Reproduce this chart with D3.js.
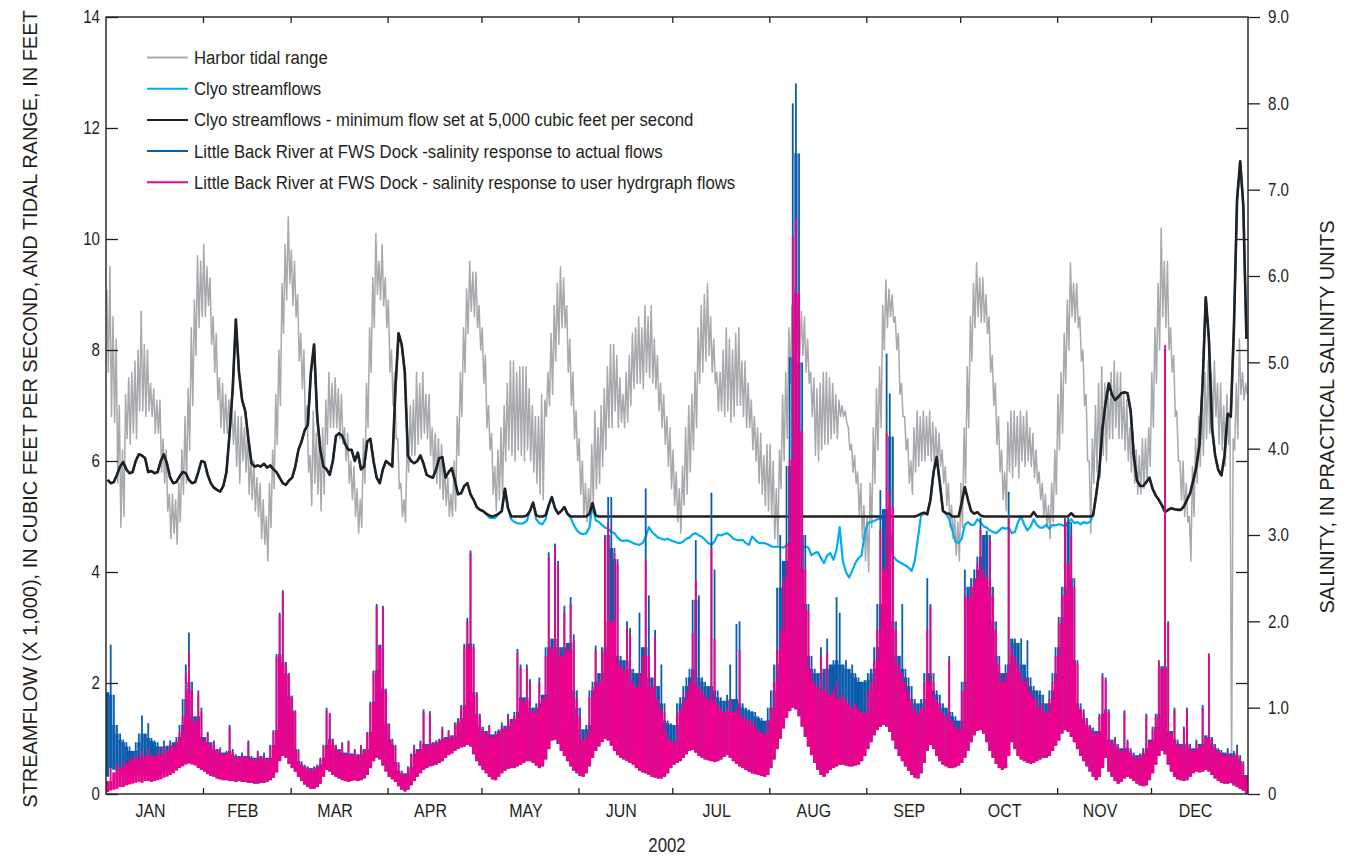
<!DOCTYPE html>
<html>
<head>
<meta charset="utf-8">
<title>Streamflow, tidal range and salinity, 2002</title>
<script src="https://cdn.jsdelivr.net/npm/d3@7"></script>
<style>
  html, body { margin: 0; padding: 0; background: #ffffff; }
  svg { display: block; }
  text { font-family: "Liberation Sans", Arial, sans-serif; fill: #231f20; }
</style>
</head>
<body>
<svg id="chart" width="1348" height="856"></svg>
<script>
// ---- Series for 2002; daily values start on 1 January ----

// Harbor tidal range, feet: two readings per day (larger, then smaller tide)
const tidalRange = [
  9.1, 7.6, 9.5, 6.8, 8.6, 6.7, 8.2, 5.6, 7.0, 4.8,
  6.2, 5.0, 7.2, 6.4, 7.5, 6.3, 7.6, 6.5, 7.8, 6.4,
  8.0, 6.9, 8.7, 6.9, 8.1, 6.8, 8.0, 6.9, 7.4, 6.8,
  7.3, 6.5, 7.1, 6.5, 7.1, 5.8, 6.4, 5.6, 6.2, 5.1,
  5.4, 4.6, 5.4, 4.7, 5.3, 4.5, 5.6, 4.9, 6.2, 5.4,
  6.8, 5.6, 7.3, 6.2, 8.4, 7.0, 8.9, 7.9, 9.7, 8.4,
  9.6, 8.6, 9.9, 8.6, 9.5, 8.8, 9.3, 8.1, 8.6, 7.6,
  8.3, 7.1, 7.5, 6.6, 7.4, 6.5, 7.2, 6.5, 7.1, 6.6,
  7.0, 6.3, 6.9, 5.9, 6.8, 5.6, 6.8, 6.0, 6.6, 5.8,
  6.5, 5.4, 6.1, 5.3, 6.0, 5.1, 5.7, 5.0, 5.6, 4.6,
  5.3, 4.5, 5.0, 4.2, 5.6, 4.8, 6.2, 5.5, 7.2, 6.3,
  8.0, 7.0, 9.2, 8.3, 9.9, 8.9, 10.4, 9.2, 9.8, 8.8,
  9.6, 8.6, 9.0, 7.8, 8.3, 7.3, 8.0, 6.6, 7.0, 5.8,
  6.1, 5.2, 6.9, 5.6, 6.5, 5.4, 6.4, 5.1, 6.6, 5.4,
  7.1, 6.3, 7.6, 6.6, 7.4, 6.6, 7.5, 6.6, 7.3, 6.4,
  7.2, 6.3, 6.6, 6.0, 6.5, 5.6, 6.0, 5.3, 5.9, 5.0,
  5.5, 4.7, 5.3, 4.8, 6.4, 5.6, 7.4, 6.6, 8.4, 7.6,
  9.3, 8.4, 10.1, 9.0, 9.6, 8.9, 9.9, 8.8, 9.3, 8.4,
  8.9, 7.6, 8.0, 7.0, 7.6, 6.4, 6.4, 5.5, 5.6, 5.0,
  5.3, 4.9, 6.4, 5.8, 7.0, 6.1, 7.1, 6.1, 7.6, 6.3,
  7.4, 6.4, 7.6, 6.5, 7.2, 6.4, 7.2, 6.1, 6.6, 5.8,
  6.5, 5.6, 6.4, 5.5, 6.3, 5.3, 5.9, 5.2, 5.7, 5.0,
  5.4, 5.0, 6.0, 5.1, 6.8, 6.1, 7.6, 6.8, 8.4, 7.6,
  9.1, 8.3, 9.6, 8.7, 9.4, 8.6, 9.4, 8.4, 8.8, 8.0,
  8.4, 7.4, 7.9, 6.6, 7.0, 6.2, 6.5, 5.4, 5.9, 5.1,
  6.2, 5.3, 6.6, 5.4, 7.0, 6.0, 7.4, 6.2, 7.8, 6.1,
  7.8, 6.0, 7.6, 6.2, 7.7, 6.1, 7.7, 6.0, 7.7, 6.2,
  7.3, 6.0, 7.0, 5.8, 6.8, 5.6, 6.8, 5.4, 7.2, 5.3,
  7.1, 6.8, 7.6, 7.0, 8.3, 7.2, 8.8, 7.8, 9.2, 8.1,
  9.5, 8.4, 9.3, 8.4, 8.8, 7.6, 8.2, 7.0, 7.6, 6.4,
  6.9, 6.0, 6.4, 5.4, 6.0, 5.0, 5.6, 4.9, 5.5, 4.9,
  6.3, 5.2, 6.9, 5.5, 6.6, 5.6, 7.0, 5.9, 7.3, 6.2,
  7.7, 6.6, 8.1, 6.6, 8.1, 6.9, 7.9, 6.6, 7.5, 6.7,
  7.2, 6.6, 7.6, 6.7, 7.9, 7.0, 8.3, 7.3, 8.4, 7.4,
  8.6, 7.4, 8.4, 7.3, 8.8, 7.6, 8.6, 7.5, 8.8, 7.4,
  8.2, 7.3, 7.9, 6.9, 7.4, 6.6, 7.2, 6.3, 6.8, 5.9,
  6.6, 5.5, 6.2, 5.2, 5.8, 4.9, 5.5, 4.7, 5.9, 5.2,
  6.6, 5.4, 7.0, 5.8, 7.2, 6.2, 7.6, 6.6, 8.4, 7.4,
  8.8, 7.6, 9.0, 7.8, 9.2, 7.9, 8.6, 7.6, 8.2, 7.4,
  7.6, 6.9, 7.6, 6.9, 8.0, 6.8, 8.4, 6.9, 8.2, 6.7,
  8.0, 6.8, 8.3, 7.0, 8.4, 7.0, 7.8, 6.8, 7.8, 6.6,
  7.4, 6.6, 7.1, 6.2, 6.8, 6.0, 6.6, 5.6, 6.5, 5.4,
  6.1, 5.2, 6.3, 5.1, 6.3, 5.0, 6.0, 4.6, 5.5, 4.5,
  6.2, 5.5, 7.2, 6.0, 7.6, 6.4, 8.4, 7.4, 8.8, 7.6,
  9.1, 8.0, 8.9, 7.9, 8.7, 7.9, 8.6, 7.6, 8.2, 7.4,
  7.6, 6.8, 7.5, 6.1, 7.3, 6.0, 7.4, 6.2, 7.6, 6.3,
  7.6, 6.3, 7.5, 6.4, 7.4, 6.5, 7.2, 6.4, 7.1, 6.8,
  7.0, 6.8, 6.9, 6.7, 6.6, 6.2, 6.3, 5.8, 6.1, 5.6,
  5.8, 5.0, 5.6, 4.6, 5.2, 4.2, 5.0, 4.0, 5.6, 4.8,
  6.6, 5.6, 7.3, 6.2, 7.7, 6.6, 8.8, 8.0, 9.26, 8.4,
  9.1, 8.6, 9.0, 8.5, 8.6, 8.0, 8.3, 7.2, 7.4, 6.8,
  6.8, 6.2, 6.4, 5.6, 6.0, 5.4, 6.6, 5.8, 6.9, 5.9,
  6.8, 6.0, 6.9, 6.0, 6.8, 6.1, 6.9, 6.0, 6.7, 5.9,
  6.6, 5.9, 6.5, 5.9, 6.2, 5.6, 5.9, 5.2, 5.6, 4.8,
  5.2, 4.6, 5.0, 4.3, 4.9, 4.2, 5.6, 4.8, 6.6, 5.6,
  7.7, 6.6, 8.6, 7.8, 9.2, 8.4, 9.57, 8.6, 9.3, 8.5,
  9.3, 8.5, 9.0, 8.3, 8.6, 7.6, 7.9, 7.0, 7.4, 6.3,
  6.8, 5.8, 6.2, 5.3, 5.8, 5.1, 6.7, 5.8, 6.9, 5.7,
  6.9, 5.9, 6.8, 5.7, 6.9, 6.0, 6.8, 5.9, 6.9, 6.0,
  6.6, 5.9, 6.5, 5.7, 6.2, 5.6, 5.8, 5.3, 5.6, 5.0,
  5.4, 4.8, 5.2, 4.6, 5.6, 4.9, 6.2, 5.4, 7.2, 6.2,
  7.6, 6.5, 8.3, 7.4, 8.9, 8.0, 9.57, 8.6, 9.2, 8.5,
  9.2, 8.4, 8.6, 7.8, 8.0, 7.0, 7.2, 6.0, 6.0, 4.7,
  6.4, 5.6, 7.0, 5.8, 7.4, 5.7, 7.7, 6.1, 7.4, 6.0,
  7.3, 6.4, 7.6, 6.4, 7.8, 6.6, 7.6, 6.4, 7.6, 6.4,
  7.2, 6.2, 7.1, 6.0, 6.6, 5.8, 6.5, 5.6, 6.2, 5.4,
  6.1, 5.4, 6.4, 5.5, 6.4, 5.6, 6.6, 5.9, 7.6, 6.6,
  8.4, 7.4, 9.2, 8.0, 10.2, 8.6, 9.6, 8.4, 9.6, 8.0,
  8.4, 7.6, 7.9, 6.8, 6.9, 6.0, 6.0, 5.3, 6.0, 5.0,
  5.6, 4.9, 5.0, 4.2, 5.9, 5.0, 6.4, 5.6, 6.8, 5.9,
  7.2, 6.1, 7.6, 6.4, 7.8, 6.5, 7.6, 6.6, 7.8, 6.8,
  7.4, 6.3, 7.4, 6.2, 7.0, 5.9, 7.2, 6.3, 6.8, 0.2,
  6.4, 6.2, 7.4, 6.4, 8.2, 7.2, 7.6, 7.1, 7.4, 7.2
];

// Clyo streamflow, thousands of cubic feet per second, daily
const clyoFlow = [
  5.66, 5.6, 5.62, 5.75, 5.9, 5.98, 5.85, 5.78, 5.8, 6.0,
  6.12, 6.1, 6.05, 5.8, 5.82, 5.78, 5.8, 6.0, 6.12, 5.95,
  5.7, 5.6, 5.62, 5.72, 5.8, 5.78, 5.66, 5.6, 5.62, 5.8,
  6.0, 5.98, 5.75, 5.6, 5.52, 5.48, 5.45, 5.55, 5.8, 6.5,
  7.3, 8.55, 7.6, 7.1, 6.9, 6.4, 5.96, 5.9, 5.92, 5.9,
  5.95, 5.88, 5.92, 5.85, 5.8, 5.7, 5.6, 5.57, 5.65, 5.7,
  5.9, 6.2, 6.35, 6.55, 6.65, 7.6, 8.1, 6.8, 6.2, 5.9,
  5.85, 5.75, 6.0, 6.45, 6.5, 6.45, 6.3, 6.2, 6.2, 6.0,
  6.15, 5.85, 5.9, 6.35, 6.4, 6.0, 5.7, 5.6, 5.85, 6.0,
  5.95, 5.9, 7.3, 8.3, 8.1, 7.6, 6.1, 6.0, 5.96, 6.0,
  6.1, 5.95, 5.75, 5.72, 5.7, 5.85, 6.05, 6.07, 5.7, 5.8,
  5.87, 5.65, 5.4, 5.42, 5.55, 5.6, 5.4, 5.3, 5.17, 5.12,
  5.1, 5.05, 4.98, 4.97, 4.98, 5.05, 5.1, 5.5, 5.15, 4.95,
  4.9, 4.88, 4.87, 4.88, 4.92, 5.1, 5.25, 4.95, 4.88, 4.86,
  4.95, 5.2, 5.35, 5.15, 5.05, 5.1, 5.17, 5.05, 4.98, 4.85,
  4.75, 4.7, 4.68, 4.7, 4.8, 5.2, 4.93, 4.9, 4.85, 4.8,
  4.78, 4.72, 4.7, 4.62, 4.57, 4.56, 4.57, 4.55, 4.52, 4.5,
  4.49, 4.52, 4.63, 4.81, 4.72, 4.67, 4.62, 4.6, 4.58, 4.6,
  4.57, 4.55, 4.53, 4.52, 4.55, 4.6, 4.62, 4.68, 4.7, 4.66,
  4.63, 4.58, 4.52, 4.49, 4.55, 4.67, 4.66, 4.68, 4.7, 4.66,
  4.6, 4.58, 4.57, 4.58, 4.52, 4.49, 4.64, 4.58, 4.53, 4.52,
  4.52, 4.5, 4.47, 4.45, 4.46, 4.45, 4.44, 4.48, 4.52, 4.5,
  4.48, 4.46, 4.45, 4.46, 4.44, 4.3, 4.34, 4.36, 4.25, 4.16,
  4.3, 4.34, 4.22, 4.4, 4.81, 4.2, 4.0, 3.9, 4.02, 4.16,
  4.25, 4.3, 4.7, 4.88, 4.9, 4.92, 4.95, 4.96, 4.98, 4.95,
  4.8, 4.3, 4.22, 4.18, 4.15, 4.12, 4.08, 4.02, 4.2, 4.6,
  5.02, 5.05, 5.07, 5.3, 5.8, 6.07, 5.6, 5.1, 5.05, 4.95,
  4.75, 4.55, 4.52, 4.6, 4.85, 4.9, 4.85, 4.85, 4.95, 4.9,
  4.82, 4.8, 4.75, 4.72, 4.7, 4.75, 4.8, 4.78, 4.8, 4.7,
  4.72, 4.9, 5.0, 4.85, 4.75, 4.82, 4.95, 4.85, 4.8, 4.8,
  4.85, 4.78, 4.85, 4.84, 4.86, 4.85, 4.82, 4.9, 4.95, 4.88,
  4.9, 4.86, 4.9, 4.88, 4.9, 5.02, 5.4, 5.84, 6.6, 7.05,
  7.4, 7.2, 7.1, 7.15, 7.22, 7.24, 7.22, 6.9, 6.1, 5.65,
  5.55, 5.55, 5.62, 5.7, 5.5, 5.38, 5.3, 5.2, 5.08, 5.12,
  5.15, 5.13, 5.12, 5.12, 5.18, 5.3, 5.42, 5.65, 5.9, 6.3,
  7.4, 8.95, 8.2, 6.6, 6.1, 5.84, 5.74, 6.1, 6.85, 6.8,
  8.4, 10.7, 11.4, 10.6, 8.2
];

// Clyo streamflow with the minimum flow held at 5,000 cubic feet per second, daily
const clyoMinFlow = [
  5.66, 5.6, 5.62, 5.75, 5.9, 5.98, 5.85, 5.78, 5.8, 6.0,
  6.12, 6.1, 6.05, 5.8, 5.82, 5.78, 5.8, 6.0, 6.12, 5.95,
  5.7, 5.6, 5.62, 5.72, 5.8, 5.78, 5.66, 5.6, 5.62, 5.8,
  6.0, 5.98, 5.75, 5.6, 5.52, 5.48, 5.45, 5.55, 5.8, 6.5,
  7.3, 8.55, 7.6, 7.1, 6.9, 6.4, 5.96, 5.9, 5.92, 5.9,
  5.95, 5.88, 5.92, 5.85, 5.8, 5.7, 5.6, 5.57, 5.65, 5.7,
  5.9, 6.2, 6.35, 6.55, 6.65, 7.6, 8.1, 6.8, 6.2, 5.9,
  5.85, 5.75, 6.0, 6.45, 6.5, 6.45, 6.3, 6.2, 6.2, 6.0,
  6.15, 5.85, 5.9, 6.35, 6.4, 6.0, 5.7, 5.6, 5.85, 6.0,
  5.95, 5.9, 7.3, 8.3, 8.1, 7.6, 6.1, 6.0, 5.96, 6.0,
  6.1, 5.95, 5.75, 5.72, 5.7, 5.85, 6.05, 6.07, 5.7, 5.8,
  5.87, 5.65, 5.4, 5.42, 5.55, 5.6, 5.4, 5.3, 5.17, 5.12,
  5.1, 5.05, 5.02, 5.0, 5.02, 5.05, 5.1, 5.5, 5.15, 5.0,
  5.0, 5.0, 5.0, 5.0, 5.02, 5.1, 5.25, 5.02, 5.0, 5.0,
  5.02, 5.2, 5.35, 5.15, 5.05, 5.1, 5.17, 5.05, 5.0, 5.0,
  5.0, 5.0, 5.0, 5.0, 5.05, 5.24, 5.02, 5.0, 5.0, 5.0,
  5.0, 5.0, 5.0, 5.0, 5.0, 5.0, 5.0, 5.0, 5.0, 5.0,
  5.0, 5.0, 5.0, 5.0, 5.0, 5.0, 5.0, 5.0, 5.0, 5.0,
  5.0, 5.0, 5.0, 5.0, 5.0, 5.0, 5.0, 5.0, 5.0, 5.0,
  5.0, 5.0, 5.0, 5.0, 5.0, 5.0, 5.0, 5.0, 5.0, 5.0,
  5.0, 5.0, 5.0, 5.0, 5.0, 5.0, 5.0, 5.0, 5.0, 5.0,
  5.0, 5.0, 5.0, 5.0, 5.0, 5.0, 5.0, 5.0, 5.0, 5.0,
  5.0, 5.0, 5.0, 5.0, 5.0, 5.0, 5.0, 5.0, 5.0, 5.0,
  5.0, 5.0, 5.0, 5.0, 5.0, 5.0, 5.0, 5.0, 5.0, 5.0,
  5.0, 5.0, 5.0, 5.0, 5.0, 5.0, 5.0, 5.0, 5.0, 5.0,
  5.0, 5.0, 5.0, 5.0, 5.0, 5.0, 5.0, 5.0, 5.0, 5.02,
  5.05, 5.07, 5.04, 5.3, 5.8, 6.07, 5.6, 5.1, 5.06, 5.05,
  5.0, 5.0, 5.0, 5.25, 5.53, 5.3, 5.1, 5.05, 5.08, 5.02,
  5.0, 5.0, 5.0, 5.0, 5.0, 5.0, 5.0, 5.0, 5.0, 5.0,
  5.0, 5.0, 5.0, 5.0, 5.0, 5.0, 5.08, 5.0, 5.0, 5.0,
  5.0, 5.0, 5.0, 5.0, 5.0, 5.0, 5.0, 5.0, 5.06, 5.0,
  5.0, 5.0, 5.0, 5.0, 5.0, 5.02, 5.4, 5.84, 6.6, 7.05,
  7.4, 7.2, 7.1, 7.15, 7.22, 7.24, 7.22, 6.9, 6.1, 5.65,
  5.55, 5.55, 5.62, 5.7, 5.5, 5.38, 5.3, 5.2, 5.08, 5.12,
  5.15, 5.13, 5.12, 5.12, 5.18, 5.3, 5.42, 5.65, 5.9, 6.3,
  7.4, 8.95, 8.2, 6.6, 6.1, 5.84, 5.74, 6.1, 6.85, 6.8,
  8.4, 10.7, 11.4, 10.6, 8.2
];

// Little Back River at FWS Dock, salinity (practical salinity units) with actual flows:
// daily minimum and daily maximum
const salinityActualLow = [
  0.2, 0.3, 0.28, 0.25, 0.22, 0.2, 0.2, 0.2, 0.2, 0.22,
  0.22, 0.2, 0.22, 0.22, 0.2, 0.22, 0.22, 0.22, 0.24, 0.25,
  0.26, 0.28, 0.3, 0.32, 0.34, 0.36, 0.37, 0.36, 0.34, 0.31,
  0.28, 0.26, 0.23, 0.21, 0.2, 0.18, 0.17, 0.16, 0.16, 0.15,
  0.15, 0.14, 0.15, 0.14, 0.14, 0.13, 0.13, 0.12, 0.12, 0.13,
  0.13, 0.14, 0.16, 0.19, 0.25, 0.38, 0.44, 0.42, 0.35, 0.3,
  0.26, 0.2, 0.15, 0.11, 0.08, 0.06, 0.06, 0.08, 0.12, 0.2,
  0.28, 0.26, 0.22, 0.2, 0.18, 0.16, 0.15, 0.14, 0.15, 0.16,
  0.15, 0.16, 0.18, 0.22, 0.3, 0.38, 0.42, 0.4, 0.33, 0.26,
  0.2, 0.17, 0.14, 0.09, 0.05, 0.03, 0.05, 0.1, 0.15, 0.2,
  0.24, 0.28, 0.3, 0.32, 0.33, 0.34, 0.36, 0.38, 0.42, 0.45,
  0.47, 0.5, 0.52, 0.54, 0.55, 0.57, 0.55, 0.46, 0.38, 0.33,
  0.28, 0.24, 0.2, 0.17, 0.16, 0.2, 0.24, 0.27, 0.29, 0.3,
  0.3, 0.32, 0.34, 0.36, 0.38, 0.38, 0.36, 0.33, 0.3, 0.32,
  0.4, 0.52, 0.62, 0.63, 0.58, 0.5, 0.44, 0.38, 0.32, 0.27,
  0.24, 0.21, 0.2, 0.24, 0.32, 0.42, 0.5, 0.55, 0.6, 0.64,
  0.62, 0.56, 0.5, 0.45, 0.42, 0.4, 0.38, 0.36, 0.34, 0.3,
  0.27, 0.25, 0.24, 0.22, 0.2, 0.19, 0.18, 0.18, 0.2, 0.24,
  0.3, 0.34, 0.36, 0.38, 0.42, 0.46, 0.5, 0.51, 0.48, 0.44,
  0.42, 0.4, 0.39, 0.38, 0.37, 0.38, 0.4, 0.43, 0.45, 0.42,
  0.38, 0.35, 0.32, 0.3, 0.28, 0.26, 0.24, 0.23, 0.22, 0.21,
  0.2, 0.22, 0.3, 0.4, 0.52, 0.64, 0.76, 0.88, 0.96, 1.0,
  0.98, 0.9, 0.78, 0.66, 0.55, 0.45, 0.36, 0.28, 0.22, 0.2,
  0.24, 0.28, 0.3, 0.32, 0.34, 0.34, 0.33, 0.32, 0.32, 0.33,
  0.34, 0.38, 0.44, 0.52, 0.6, 0.68, 0.74, 0.78, 0.8, 0.78,
  0.72, 0.62, 0.52, 0.44, 0.38, 0.32, 0.27, 0.22, 0.19, 0.18,
  0.24, 0.36, 0.5, 0.57, 0.52, 0.44, 0.38, 0.34, 0.32, 0.3,
  0.3, 0.31, 0.33, 0.36, 0.42, 0.5, 0.6, 0.68, 0.73, 0.74,
  0.7, 0.6, 0.5, 0.42, 0.35, 0.3, 0.28, 0.3, 0.44, 0.6,
  0.52, 0.44, 0.4, 0.38, 0.36, 0.35, 0.36, 0.38, 0.4, 0.42,
  0.42, 0.44, 0.5, 0.56, 0.62, 0.7, 0.74, 0.72, 0.66, 0.6,
  0.52, 0.44, 0.38, 0.32, 0.26, 0.2, 0.16, 0.2, 0.3, 0.42,
  0.26, 0.2, 0.15, 0.12, 0.14, 0.18, 0.2, 0.18, 0.15, 0.12,
  0.1, 0.09, 0.1, 0.16, 0.24, 0.34, 0.44, 0.5, 0.46, 0.34,
  0.26, 0.2, 0.17, 0.16, 0.15, 0.16, 0.2, 0.24, 0.26, 0.25,
  0.26, 0.28, 0.26, 0.22, 0.18, 0.15, 0.13, 0.12, 0.12, 0.13,
  0.1, 0.08, 0.06, 0.04, 0.0
];
const salinityActualHigh = [
  1.18, 1.73, 1.15, 0.8, 0.7, 0.63, 0.6, 0.55, 0.5, 0.6,
  0.7, 0.91, 0.7, 0.82, 0.65, 0.62, 0.6, 0.55, 0.62, 0.56,
  0.62, 0.6, 0.66, 0.8, 1.1, 1.5, 1.87, 1.3, 0.9, 1.2,
  1.0, 0.66, 0.72, 0.6, 0.62, 0.52, 0.54, 0.48, 0.5, 0.8,
  0.52, 0.46, 0.44, 0.48, 0.44, 0.62, 0.44, 0.42, 0.5, 0.44,
  0.48, 0.42, 0.57, 0.74, 1.62, 2.1, 2.36, 1.53, 1.4, 1.14,
  0.97, 0.52, 0.38, 0.34, 0.32, 0.3, 0.32, 0.34, 0.42, 0.57,
  1.0, 0.94, 0.64, 0.57, 0.52, 0.6, 0.48, 0.62, 0.47, 0.52,
  0.46, 0.57, 0.52, 0.72, 1.07, 1.43, 2.2, 1.73, 2.18, 1.22,
  0.82, 0.64, 0.57, 0.37, 0.27, 0.24, 0.32, 0.47, 0.57, 0.52,
  0.62, 0.98, 0.58, 0.96, 0.6, 0.62, 0.64, 0.78, 0.66, 0.74,
  0.68, 0.83, 0.88, 1.03, 1.74, 2.04, 2.82, 1.74, 1.18, 0.93,
  0.78, 0.73, 0.8, 0.69, 0.73, 0.75, 0.83, 0.79, 0.93, 0.87,
  0.95, 1.68, 1.5, 1.12, 1.5, 1.33, 1.0, 1.05, 1.35, 1.15,
  1.7, 2.8, 1.8, 2.9, 2.7, 1.7, 2.18, 1.75, 2.28, 1.85,
  1.2, 1.0, 0.75, 0.8, 1.2, 1.3, 1.72, 1.4, 1.7, 3.0,
  3.44, 3.44, 2.85, 2.72, 1.6, 1.55, 2.0, 1.92, 1.45, 1.4,
  2.1, 1.7, 3.54, 2.3, 1.35, 1.9, 1.25, 1.5, 1.05, 0.85,
  0.82, 0.8, 1.05, 1.12, 1.25, 1.35, 1.45, 2.25, 2.94, 2.3,
  1.35, 1.3, 1.25, 3.49, 2.6, 1.2, 1.12, 1.08, 1.15, 1.5,
  1.1, 1.97, 2.0, 1.05, 1.0, 0.98, 0.96, 0.95, 0.9, 0.88,
  0.85, 1.0, 1.2, 1.5, 2.39, 3.0, 2.7, 3.8, 5.06, 8.0,
  8.23, 7.42, 5.0, 3.0, 2.2, 1.6, 1.45, 1.4, 1.7, 1.45,
  1.8, 1.5, 1.55, 2.28, 2.1, 1.5, 1.55, 1.45, 1.5, 1.4,
  1.35, 1.3, 1.32, 1.4, 1.45, 1.7, 2.2, 3.52, 3.3, 5.1,
  4.64, 4.14, 2.0, 1.6, 2.2, 1.45, 1.35, 1.25, 1.1, 1.05,
  1.1, 1.4, 2.5, 2.2, 1.4, 1.2, 1.15, 1.05, 1.0, 1.6,
  0.95, 0.9, 0.85, 1.3, 2.6, 2.4, 2.5, 2.6, 2.75, 3.2,
  3.0, 3.05, 3.0, 2.4, 2.0, 1.6, 1.4, 1.5, 3.5, 1.8,
  1.8, 1.75, 1.8, 1.5, 1.78, 1.35, 1.25, 1.2, 1.2, 1.15,
  1.05, 1.2, 1.4, 1.7, 2.05, 2.4, 3.2, 3.2, 3.15, 2.5,
  1.55, 1.05, 0.98, 0.88, 0.8, 0.77, 0.73, 0.93, 1.4, 1.35,
  0.98, 0.63, 0.66, 0.58, 0.53, 0.97, 0.63, 0.53, 0.48, 0.45,
  0.47, 0.53, 0.93, 0.63, 0.78, 0.93, 1.55, 1.48, 5.15, 2.0,
  0.73, 1.0, 0.63, 0.58, 0.78, 1.0, 0.58, 0.53, 0.63, 0.58,
  1.03, 0.68, 1.6, 0.66, 0.58, 0.53, 0.51, 0.48, 0.53, 0.47,
  0.5, 0.57, 0.45, 0.38, 0.22
];

// Little Back River at FWS Dock, salinity with the user hydrograph flows:
// daily minimum and daily maximum
const salinityUserLow = [
  0.02, 0.04, 0.05, 0.06, 0.08, 0.08, 0.1, 0.11, 0.12, 0.13,
  0.14, 0.13, 0.15, 0.15, 0.14, 0.15, 0.16, 0.17, 0.19, 0.2,
  0.22, 0.24, 0.27, 0.3, 0.32, 0.34, 0.35, 0.34, 0.33, 0.3,
  0.28, 0.26, 0.23, 0.21, 0.2, 0.18, 0.17, 0.16, 0.16, 0.15,
  0.15, 0.14, 0.15, 0.14, 0.14, 0.13, 0.13, 0.12, 0.12, 0.13,
  0.13, 0.14, 0.16, 0.19, 0.25, 0.38, 0.44, 0.42, 0.35, 0.3,
  0.26, 0.2, 0.15, 0.11, 0.08, 0.06, 0.06, 0.08, 0.12, 0.2,
  0.28, 0.26, 0.22, 0.2, 0.18, 0.16, 0.15, 0.14, 0.15, 0.16,
  0.15, 0.16, 0.18, 0.22, 0.3, 0.38, 0.42, 0.4, 0.33, 0.26,
  0.2, 0.17, 0.14, 0.09, 0.05, 0.03, 0.05, 0.1, 0.15, 0.2,
  0.24, 0.28, 0.3, 0.32, 0.33, 0.34, 0.36, 0.38, 0.42, 0.45,
  0.47, 0.5, 0.52, 0.54, 0.55, 0.57, 0.55, 0.46, 0.38, 0.33,
  0.28, 0.24, 0.2, 0.17, 0.16, 0.2, 0.24, 0.27, 0.29, 0.3,
  0.3, 0.32, 0.34, 0.36, 0.38, 0.38, 0.36, 0.33, 0.3, 0.32,
  0.4, 0.52, 0.62, 0.63, 0.58, 0.5, 0.44, 0.38, 0.32, 0.27,
  0.24, 0.21, 0.2, 0.24, 0.32, 0.42, 0.5, 0.55, 0.6, 0.64,
  0.62, 0.56, 0.5, 0.45, 0.42, 0.4, 0.38, 0.36, 0.34, 0.3,
  0.27, 0.25, 0.24, 0.22, 0.2, 0.19, 0.18, 0.18, 0.2, 0.24,
  0.3, 0.34, 0.36, 0.38, 0.42, 0.46, 0.5, 0.51, 0.48, 0.44,
  0.42, 0.4, 0.39, 0.38, 0.37, 0.38, 0.4, 0.43, 0.45, 0.42,
  0.38, 0.35, 0.32, 0.3, 0.28, 0.26, 0.24, 0.23, 0.22, 0.21,
  0.2, 0.22, 0.3, 0.4, 0.52, 0.64, 0.76, 0.88, 0.96, 1.0,
  0.98, 0.9, 0.78, 0.66, 0.55, 0.45, 0.36, 0.28, 0.22, 0.2,
  0.24, 0.28, 0.3, 0.32, 0.34, 0.34, 0.33, 0.32, 0.32, 0.33,
  0.34, 0.38, 0.44, 0.52, 0.6, 0.68, 0.74, 0.78, 0.8, 0.78,
  0.72, 0.62, 0.52, 0.44, 0.38, 0.32, 0.27, 0.22, 0.19, 0.18,
  0.24, 0.36, 0.5, 0.57, 0.52, 0.44, 0.38, 0.34, 0.32, 0.3,
  0.3, 0.31, 0.33, 0.36, 0.42, 0.5, 0.6, 0.68, 0.73, 0.74,
  0.7, 0.6, 0.5, 0.42, 0.35, 0.3, 0.28, 0.3, 0.44, 0.6,
  0.52, 0.44, 0.4, 0.38, 0.36, 0.35, 0.36, 0.38, 0.4, 0.42,
  0.42, 0.44, 0.5, 0.56, 0.62, 0.7, 0.74, 0.72, 0.66, 0.6,
  0.52, 0.44, 0.38, 0.32, 0.26, 0.2, 0.16, 0.2, 0.3, 0.42,
  0.26, 0.2, 0.15, 0.12, 0.14, 0.18, 0.2, 0.18, 0.15, 0.12,
  0.1, 0.09, 0.1, 0.16, 0.24, 0.34, 0.44, 0.5, 0.46, 0.34,
  0.26, 0.2, 0.17, 0.16, 0.15, 0.16, 0.2, 0.24, 0.26, 0.25,
  0.26, 0.28, 0.26, 0.22, 0.18, 0.15, 0.13, 0.12, 0.12, 0.13,
  0.1, 0.08, 0.06, 0.04, 0.0
];
const salinityUserHigh = [
  0.15, 0.3, 0.25, 0.35, 0.3, 0.38, 0.35, 0.42, 0.4, 0.45,
  0.42, 0.5, 0.44, 0.52, 0.45, 0.44, 0.5, 0.46, 0.56, 0.5,
  0.58, 0.55, 0.62, 0.72, 0.9, 1.4, 1.64, 1.2, 0.84, 1.15,
  0.95, 0.62, 0.7, 0.56, 0.6, 0.5, 0.52, 0.46, 0.48, 0.77,
  0.5, 0.44, 0.42, 0.46, 0.42, 0.6, 0.42, 0.4, 0.48, 0.42,
  0.46, 0.4, 0.55, 0.72, 1.59, 2.07, 2.33, 1.5, 1.38, 1.12,
  0.95, 0.5, 0.36, 0.32, 0.3, 0.28, 0.3, 0.32, 0.4, 0.55,
  0.97, 0.92, 0.62, 0.55, 0.5, 0.58, 0.46, 0.6, 0.45, 0.5,
  0.44, 0.55, 0.5, 0.7, 1.05, 1.4, 2.17, 1.7, 2.15, 1.2,
  0.8, 0.62, 0.55, 0.35, 0.25, 0.22, 0.3, 0.45, 0.55, 0.5,
  0.6, 0.95, 0.56, 0.93, 0.58, 0.6, 0.62, 0.75, 0.64, 0.72,
  0.66, 0.8, 0.85, 1.0, 1.7, 2.0, 2.79, 1.7, 1.15, 0.9,
  0.75, 0.7, 0.78, 0.66, 0.7, 0.72, 0.8, 0.76, 0.9, 0.84,
  0.9, 1.63, 1.46, 1.08, 1.46, 1.29, 0.95, 1.0, 1.29, 1.1,
  1.6, 2.74, 1.7, 2.86, 2.65, 1.6, 2.1, 1.67, 2.2, 1.78,
  1.1, 0.9, 0.63, 0.7, 1.12, 1.24, 1.67, 1.3, 1.65, 2.96,
  3.14, 2.0, 2.79, 2.67, 1.5, 1.44, 1.93, 1.85, 1.3, 1.24,
  1.4, 1.6, 2.7, 1.6, 1.24, 1.82, 1.1, 1.0, 0.94, 0.7,
  0.62, 0.6, 0.94, 1.0, 1.1, 1.2, 1.3, 1.86, 2.48, 1.24,
  1.2, 1.15, 1.1, 2.85, 1.8, 1.05, 1.0, 0.95, 1.0, 1.1,
  0.95, 1.0, 1.67, 0.9, 0.88, 0.86, 0.84, 0.8, 0.75, 0.72,
  0.7, 0.85, 1.0, 1.3, 1.67, 1.9, 2.5, 2.9, 3.87, 6.47,
  6.67, 5.8, 4.2, 2.6, 2.13, 1.44, 1.3, 1.24, 1.6, 1.2,
  1.63, 1.15, 1.2, 1.3, 1.1, 1.15, 1.1, 1.05, 1.0, 1.05,
  1.0, 0.95, 0.94, 1.2, 1.3, 1.55, 1.9, 3.06, 2.6, 4.18,
  3.5, 3.33, 1.9, 1.5, 1.4, 1.3, 1.2, 1.1, 1.0, 0.94,
  1.0, 1.3, 1.9, 2.17, 1.3, 1.1, 1.05, 0.95, 0.9, 1.55,
  0.85, 0.8, 0.75, 1.2, 2.3, 2.28, 2.4, 2.5, 2.67, 3.06,
  2.6, 2.5, 2.95, 2.3, 1.9, 1.5, 1.3, 1.4, 3.2, 1.7,
  1.6, 1.5, 1.4, 1.3, 1.35, 1.2, 1.12, 1.1, 1.0, 1.05,
  0.94, 1.1, 1.3, 1.6, 1.98, 2.3, 3.17, 2.67, 3.0, 2.4,
  1.51, 1.0, 0.94, 0.85, 0.78, 0.74, 0.7, 0.9, 1.36, 1.32,
  0.95, 0.6, 0.63, 0.55, 0.5, 0.94, 0.6, 0.5, 0.45, 0.42,
  0.44, 0.5, 0.9, 0.6, 0.75, 0.9, 1.52, 1.45, 5.2, 1.98,
  0.7, 0.97, 0.6, 0.55, 0.75, 0.97, 0.55, 0.5, 0.6, 0.55,
  1.0, 0.65, 1.63, 0.63, 0.55, 0.5, 0.48, 0.45, 0.5, 0.44,
  0.45, 0.5, 0.42, 0.35, 0.2
];

// Axis ticks and labels
const leftTicks = [0, 2, 4, 6, 8, 10, 12, 14];
const rightTicks = [0, 1, 2, 3, 4, 5, 6, 7, 8, 9];
const monthLabels = ["JAN", "FEB", "MAR", "APR", "MAY", "JUN", "JUL", "AUG", "SEP", "OCT", "NOV", "DEC"];
const legendLabels = [
  "Harbor tidal range",
  "Clyo streamflows",
  "Clyo streamflows - minimum flow set at 5,000 cubic feet per second",
  "Little Back River at FWS Dock -salinity response to actual flows",
  "Little Back River at FWS Dock - salinity response to user hydrgraph flows"
];

// ---- Layout ----
const frame = { left: 106, right: 1248, top: 17, bottom: 794 };
const ink = "#231f20";
const narrow = 0.84;   // horizontal squeeze giving a condensed face
const colors = {
  tide: "#a7a9ac",
  clyo: "#00aeef",
  clyoMin: "#231f20",
  actual: "#0b5cab",
  user: "#ec008c"
};

const svg = d3.select("#chart");
const t0 = Date.UTC(2002, 0, 1);
const dayDate = d => new Date(t0 + d * 86400000);
const dayIndex = d3.range(clyoFlow.length);

const x = d3.scaleUtc().domain([dayDate(0), dayDate(365)]).range([frame.left, frame.right]);
const yLeft = d3.scaleLinear().domain([0, 14]).range([frame.bottom, frame.top]);
const yRight = d3.scaleLinear().domain([0, 9]).range([frame.bottom, frame.top]);

svg.append("defs").append("clipPath").attr("id", "plot-area")
  .append("rect")
  .attr("x", frame.left).attr("y", frame.top)
  .attr("width", frame.right - frame.left).attr("height", frame.bottom - frame.top);

const plot = svg.append("g").attr("clip-path", "url(#plot-area)");

// Tidal range: two tides a day, against the left axis
const tideLine = d3.line()
  .x((v, k) => x(dayDate(k / 2 + 0.25)))
  .y(v => yLeft(v));

plot.append("path").datum(tidalRange)
  .attr("d", tideLine)
  .attr("fill", "none").attr("stroke", colors.tide)
  .attr("stroke-width", 1.5).attr("stroke-linejoin", "round");

// Daily streamflow lines plotted at midday, against the left axis
const dailyLine = d3.line()
  .x((v, i) => x(dayDate(i + 0.5)))
  .y(v => yLeft(v));

plot.append("path").datum(clyoFlow)
  .attr("d", dailyLine)
  .attr("fill", "none").attr("stroke", colors.clyo)
  .attr("stroke-width", 2.2).attr("stroke-linejoin", "round");

plot.append("path").datum(clyoMinFlow)
  .attr("d", dailyLine)
  .attr("fill", "none").attr("stroke", colors.clyoMin)
  .attr("stroke-width", 2.6).attr("stroke-linejoin", "round");

// Salinity against the right axis: each day fills its range; the part of a daily
// maximum that rises above both neighbouring days is drawn as a thin spike
function salinityRange(low, high, color) {
  const g = plot.append("g").attr("fill", color);
  const bodyTop = i => Math.max(low[i], Math.min(high[i], high[Math.max(0, i - 1)], high[Math.min(high.length - 1, i + 1)]));
  g.selectAll("rect.body")
    .data(dayIndex)
    .join("rect")
    .attr("class", "body")
    .attr("x", i => x(dayDate(i)))
    .attr("width", i => x(dayDate(i + 1)) - x(dayDate(i)) + 0.1)
    .attr("y", i => yRight(bodyTop(i)))
    .attr("height", i => Math.max(1, yRight(low[i]) - yRight(bodyTop(i))));
  g.selectAll("rect.spike")
    .data(dayIndex.filter(i => high[i] > bodyTop(i)))
    .join("rect")
    .attr("class", "spike")
    .attr("x", i => x(dayDate(i + 0.5)) - 0.9)
    .attr("width", 1.8)
    .attr("y", i => yRight(high[i]))
    .attr("height", i => yRight(bodyTop(i)) - yRight(high[i]) + 0.5);
}
salinityRange(salinityActualLow, salinityActualHigh, colors.actual);
salinityRange(salinityUserLow, salinityUserHigh, colors.user);

// ---- Frame and axes ----
svg.append("rect")
  .attr("x", frame.left).attr("y", frame.top)
  .attr("width", frame.right - frame.left).attr("height", frame.bottom - frame.top)
  .attr("fill", "none").attr("stroke", ink).attr("stroke-width", 1.4);

function squeezeText(sel, sx) {
  sel.each(function () {
    const t = d3.select(this);
    const tx = +t.attr("x") || 0;
    const ty = +t.attr("y") || 0;
    t.attr("x", null).attr("y", null).attr("transform", `translate(${tx},${ty}) scale(${sx},1)`);
  });
}

function styleAxis(g) {
  g.select(".domain").remove();
  g.selectAll(".tick line").attr("stroke", ink).attr("stroke-width", 1.3);
  g.selectAll(".tick text").attr("fill", ink)
    .style("font-size", "18px").style("font-family", '"Liberation Sans", Arial, sans-serif')
    .call(squeezeText, narrow);
}

svg.append("g").attr("transform", `translate(${frame.left},0)`)
  .call(d3.axisLeft(yLeft).tickValues(leftTicks).tickSizeInner(-12).tickSizeOuter(0).tickPadding(6))
  .call(styleAxis);

svg.append("g").attr("transform", `translate(${frame.right},0)`)
  .call(d3.axisRight(yRight).tickValues(rightTicks).tickSizeInner(12).tickSizeOuter(0).tickPadding(8)
    .tickFormat(v => v === 0 ? "0" : v.toFixed(1)))
  .call(styleAxis);

// left-axis tick marks repeated inside the right edge
svg.append("g").attr("transform", `translate(${frame.right},0)`)
  .call(d3.axisRight(yLeft).tickValues(leftTicks.slice(1, -1)).tickSizeInner(-12).tickSizeOuter(0).tickFormat(""))
  .call(styleAxis);

const monthStarts = d3.utcMonth.range(dayDate(0), dayDate(366));

svg.append("g").attr("transform", `translate(0,${frame.bottom})`)
  .call(d3.axisBottom(x).tickValues(monthStarts.slice(1, -1)).tickSizeInner(-6).tickSizeOuter(0).tickFormat(""))
  .call(styleAxis);

svg.append("g").attr("transform", `translate(0,${frame.top})`)
  .call(d3.axisTop(x).tickValues(monthStarts.slice(1, -1)).tickSizeInner(-6).tickSizeOuter(0).tickFormat(""))
  .call(styleAxis);

svg.append("g").selectAll("text")
  .data(monthLabels)
  .join("text")
  .attr("transform", (m, i) => {
    const mid = x(new Date((monthStarts[i].getTime() + monthStarts[i + 1].getTime()) / 2)) - 4;
    return `translate(${mid},817) scale(${narrow},1)`;
  })
  .attr("text-anchor", "middle")
  .style("font-size", "19px")
  .text(m => m);

svg.append("text")
  .attr("transform", `translate(667,852) scale(${narrow},1)`)
  .attr("text-anchor", "middle")
  .style("font-size", "20px")
  .text("2002");

svg.append("text")
  .attr("transform", "translate(37,409) rotate(-90) scale(0.95,1)")
  .attr("text-anchor", "middle")
  .style("font-size", "21px")
  .text("STREAMFLOW (X 1,000), IN CUBIC FEET PER SECOND, AND TIDAL RANGE, IN FEET");

svg.append("text")
  .attr("transform", "translate(1334,417) rotate(-90) scale(0.95,1)")
  .attr("text-anchor", "middle")
  .style("font-size", "21px")
  .text("SALINITY, IN PRACTICAL SALINITY UNITS");

// ---- Legend ----
const legendColors = [colors.tide, colors.clyo, colors.clyoMin, colors.actual, colors.user];
const legendRows = svg.append("g").selectAll("g")
  .data(legendLabels)
  .join("g")
  .attr("transform", (d, i) => `translate(0,${57.5 + i * 31.2})`);
legendRows.append("line")
  .attr("x1", 147).attr("x2", 188)
  .attr("stroke", (d, i) => legendColors[i])
  .attr("stroke-width", 2);
legendRows.append("text")
  .attr("transform", "translate(194,6.5) scale(0.88,1)")
  .style("font-size", "19px")
  .text(d => d);
</script>
</body>
</html>
